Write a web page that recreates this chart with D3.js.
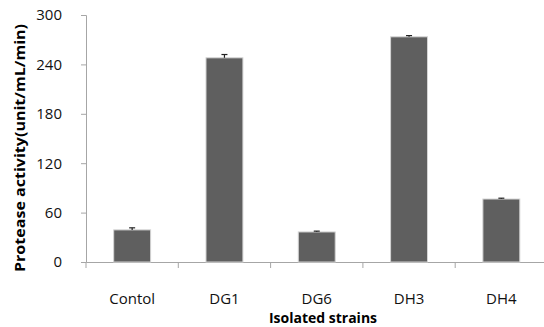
<!DOCTYPE html>
<html><head><meta charset="utf-8">
<script src="https://cdn.jsdelivr.net/npm/d3@7"></script>
<style>body{margin:0;background:#fff}svg{display:block}</style>
</head><body>
<svg id="c" width="544" height="327"></svg>
<script>
const categories = ["Contol","DG1","DG6","DH3","DH4"];
const values = [39, 248, 36.5, 273.5, 76.5];
const errors = [2.5, 4, 1, 1.5, 1];
const yTicks = [0,60,120,180,240,300];

const svg = d3.select("#c");
const x0 = 86, x1 = 547.5, yTop = 15, yBot = 262;
const x = d3.scaleBand().domain(categories).range([x0, x1]).paddingInner(0.6).paddingOuter(0.3);
const y = d3.scaleLinear().domain([0,300]).range([yBot, yTop]);
const font = "'Open Sans','DejaVu Sans',sans-serif";

// y axis
const ya = svg.append("g").attr("transform",`translate(${x0},0)`)
  .call(d3.axisLeft(y).tickValues(yTicks).tickSize(5).tickPadding(19));
ya.select(".domain").attr("stroke","#a6a6a6");
ya.selectAll(".tick line").attr("stroke","#a6a6a6");
ya.selectAll("text").attr("font-family",font).attr("font-size",15).attr("fill","#111");

// x axis
const xb = d3.scaleBand().domain(categories).range([x0, x1]);
const xa = svg.append("g").attr("transform",`translate(0,${yBot})`)
  .call(d3.axisBottom(xb).tickSize(0).tickPadding(31));
xa.select(".domain").attr("stroke","#a6a6a6");
xa.selectAll("text").attr("font-family",font).attr("font-size",15).attr("fill","#111");
// category separator ticks
svg.append("g").selectAll("line").data(categories.concat(["__end"])).join("line")
  .attr("x1",(d,i)=>x0 + i*xb.step()).attr("x2",(d,i)=>x0 + i*xb.step())
  .attr("y1",yBot).attr("y2",yBot+6).attr("stroke","#a6a6a6");

// bars
svg.append("g").selectAll("rect").data(values).join("rect")
  .attr("x",(d,i)=>x(categories[i])).attr("width",x.bandwidth())
  .attr("y",d=>y(d)).attr("height",d=>yBot-y(d))
  .attr("fill","#5f5f5f").attr("stroke","#d4d4d4").attr("stroke-width",1);

// error bars
const eb = svg.append("g").attr("stroke","#222").attr("stroke-width",1.2);
values.forEach((v,i)=>{
  const cx = x(categories[i]) + x.bandwidth()/2;
  eb.append("line").attr("x1",cx).attr("x2",cx).attr("y1",y(v)).attr("y2",y(v+errors[i]));
  eb.append("line").attr("x1",cx-3).attr("x2",cx+3).attr("y1",y(v+errors[i])).attr("y2",y(v+errors[i]));
});

// titles
svg.append("text").attr("transform","translate(25,148) rotate(-90)")
  .attr("text-anchor","middle").attr("font-family",font).attr("font-size",15)
  .attr("textLength",248).attr("lengthAdjust","spacingAndGlyphs")
  .attr("font-weight","bold").text("Protease activity(unit/mL/min)");
svg.append("text").attr("x",323).attr("y",323).attr("text-anchor","middle")
  .attr("font-family",font).attr("font-size",14).attr("font-weight","bold").text("Isolated strains");
</script>
</body></html>
